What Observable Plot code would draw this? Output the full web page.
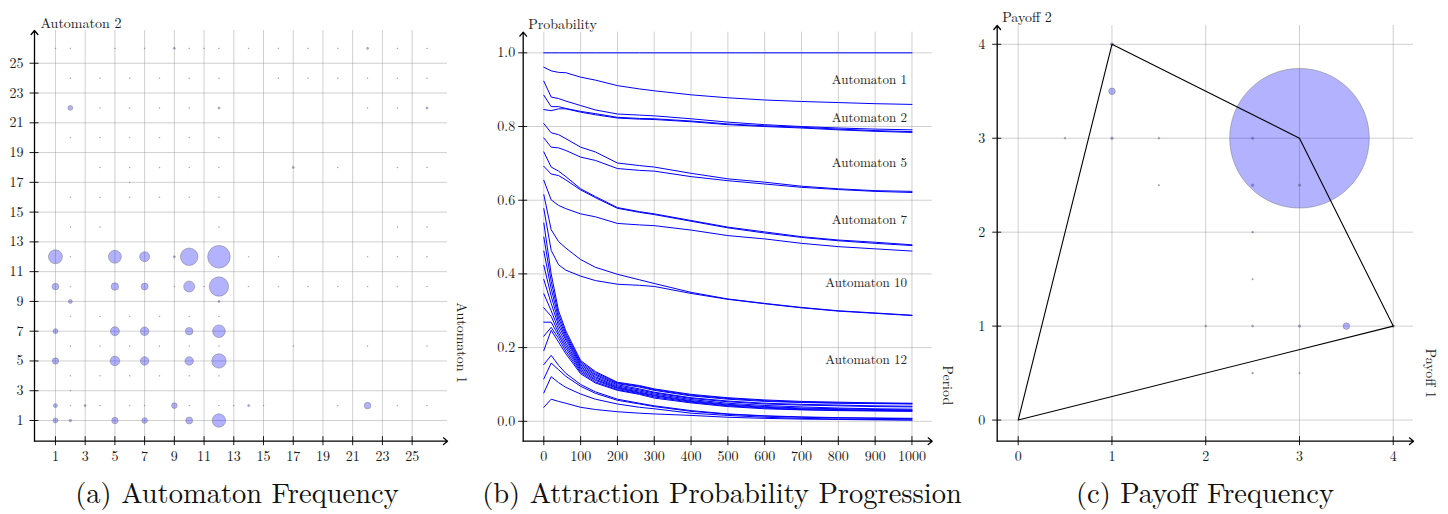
<!DOCTYPE html>
<html><head><meta charset="utf-8">
<script src="https://cdn.jsdelivr.net/npm/d3@7"></script>
<script src="https://cdn.jsdelivr.net/npm/@observablehq/plot@0.6"></script>
<style>
body{margin:0;background:#fff;}
#wrap{position:relative;width:1448px;height:514px;overflow:hidden;font-family:"Latin Modern Roman","Liberation Serif",serif;color:#111;}
.panel{position:absolute;top:0;}
.cap{position:absolute;top:474px;font-size:28.5px;white-space:nowrap;transform:translateX(-50%);line-height:34px;}
</style></head><body><div id="wrap"></div>
<script>
// ---------- Panel (a): Automaton Frequency ----------
const autoTicks = [1,3,5,7,9,11,13,15,17,19,21,23,25];
const automaton1 = [1,5,7,10,12, 1,5,7,10,12, 2, 1,5,7,10,12, 1,5,7,10,12, 1,9,22, 1,2,5,7,10,12, 2];
const automaton2 = [12,12,12,12,12, 10,10,10,10,10, 9, 7,7,7,7,7, 5,5,5,5,5, 2,2,2, 1,1,1,1,1,1, 22];
const pairFreq   = [49,42,25,77,128, 11,14,12,30,94, 4, 6,20,18,14,40, 10,23,18,18,52, 4,8,11, 6,1.7,10,8,12,45, 6];
const fewPairs = [[9,12],[12,9],[3,2],[14,2],[9,26],[22,26],[12,22],[26,22],[17,18]];
const fewFreq = 1.0;
const rarePairs = [
 [1,26],[2,26],[5,26],[7,26],[10,26],[11,26],[12,26],[14,26],[16,26],[18,26],[20,26],[24,26],[26,26],
 [2,24],[4,24],[6,24],[8,24],[10,24],[12,24],[16,24],[18,24],[20,24],[22,24],[24,24],[26,24],
 [4,22],[6,22],[8,22],[10,22],[22,22],[24,22],
 [2,20],[4,20],[6,20],[8,20],[10,20],[12,20],
 [4,18],[6,18],[8,18],[10,18],[12,18],[20,18],[24,18],[26,18],[6,17],
 [2,16],[4,16],[6,16],[8,16],[10,16],[12,16],
 [2,14],[4,14],[12,14],[24,14],[26,14],
 [2,12],[14,12],[16,12],[22,12],[24,12],[26,12],
 [2,10],[9,10],[11,10],[14,10],[16,10],[18,10],[20,10],[22,10],[24,10],[26,10],
 [2,8],[4,8],[6,8],[8,8],[10,8],[12,8],
 [2,6],[4,6],[6,6],[8,6],[10,6],[12,6],[17,6],[22,6],[26,6],
 [2,4],[4,4],[6,4],[8,4],[10,4],[12,4],[2,3],
 [2,2],[4,2],[6,2],[7,2],[10,2],[12,2],[13,2],[15,2],[20,2],[24,2],[26,2]
];
const rareFreq = 0.15;

// ---------- Panel (b): Attraction Probability Progression ----------
const periods = [0,20,40,60,100,140,200,260,300,400,500,600,700,800,900,1000];
const periodTicks = [0,100,200,300,400,500,600,700,800,900,1000];
const probTicks = [0,0.2,0.4,0.6,0.8,1.0];
const b26 = [1,1,1,1,1,1,1,1,1,1,1,1,1,1,1,1];
const b25 = [0.961,0.951,0.947,0.946,0.934,0.926,0.911,0.902,0.897,0.886,0.878,0.872,0.868,0.865,0.862,0.860];
const b24 = [0.923,0.880,0.876,0.869,0.857,0.845,0.834,0.831,0.829,0.821,0.812,0.805,0.800,0.796,0.793,0.791];
const b23 = [0.885,0.854,0.854,0.849,0.841,0.835,0.825,0.822,0.821,0.815,0.807,0.802,0.798,0.793,0.789,0.786];
const b22 = [0.846,0.843,0.848,0.848,0.839,0.832,0.823,0.820,0.819,0.813,0.805,0.800,0.796,0.791,0.787,0.784];
const b21 = [0.808,0.783,0.778,0.767,0.744,0.731,0.701,0.694,0.690,0.673,0.658,0.649,0.638,0.631,0.626,0.624];
const b20 = [0.769,0.744,0.742,0.735,0.717,0.708,0.686,0.681,0.679,0.664,0.653,0.644,0.635,0.629,0.624,0.621];
const b19 = [0.731,0.690,0.679,0.664,0.631,0.610,0.580,0.569,0.563,0.545,0.527,0.514,0.501,0.492,0.486,0.479];
const b18 = [0.692,0.671,0.667,0.655,0.628,0.607,0.578,0.567,0.561,0.543,0.525,0.511,0.499,0.490,0.483,0.477];
const b17 = [0.654,0.601,0.586,0.577,0.563,0.555,0.537,0.533,0.531,0.519,0.504,0.495,0.483,0.474,0.468,0.462];
const b16 = [0.615,0.520,0.488,0.470,0.439,0.418,0.399,0.384,0.374,0.350,0.332,0.320,0.309,0.300,0.294,0.288];
const b15 = [0.577,0.464,0.425,0.410,0.394,0.382,0.372,0.369,0.366,0.347,0.331,0.319,0.308,0.299,0.293,0.287];
const b14 = [0.538,0.400,0.300,0.245,0.165,0.135,0.106,0.097,0.088,0.073,0.064,0.058,0.054,0.052,0.050,0.049];
const b13 = [0.500,0.380,0.290,0.238,0.161,0.132,0.104,0.095,0.086,0.071,0.062,0.056,0.052,0.050,0.049,0.048];
const b12 = [0.462,0.360,0.280,0.232,0.157,0.128,0.102,0.093,0.084,0.069,0.060,0.054,0.051,0.049,0.048,0.047];
const b11 = [0.423,0.340,0.270,0.226,0.153,0.125,0.099,0.088,0.079,0.064,0.055,0.049,0.046,0.044,0.042,0.041];
const b10 = [0.385,0.320,0.260,0.220,0.149,0.121,0.096,0.085,0.077,0.062,0.053,0.047,0.044,0.042,0.040,0.039];
const b9  = [0.346,0.300,0.250,0.212,0.145,0.118,0.093,0.082,0.074,0.059,0.049,0.043,0.039,0.036,0.034,0.033];
const b8  = [0.308,0.285,0.240,0.205,0.141,0.114,0.091,0.079,0.071,0.056,0.046,0.040,0.036,0.034,0.032,0.031];
const b7  = [0.269,0.269,0.233,0.198,0.137,0.111,0.089,0.077,0.069,0.054,0.044,0.038,0.034,0.032,0.030,0.029];
const b6  = [0.231,0.255,0.225,0.190,0.133,0.107,0.086,0.075,0.066,0.052,0.042,0.036,0.032,0.030,0.029,0.028];
const b5  = [0.192,0.247,0.215,0.183,0.129,0.104,0.084,0.073,0.063,0.050,0.040,0.034,0.031,0.029,0.028,0.027];
const b4  = [0.154,0.179,0.152,0.130,0.100,0.080,0.060,0.049,0.042,0.029,0.020,0.015,0.012,0.010,0.009,0.008];
const b3  = [0.115,0.158,0.140,0.122,0.095,0.076,0.057,0.047,0.040,0.027,0.019,0.014,0.011,0.009,0.008,0.007];
const b2  = [0.077,0.121,0.105,0.092,0.074,0.060,0.047,0.038,0.034,0.022,0.016,0.011,0.008,0.006,0.005,0.004];
const b1  = [0.038,0.060,0.054,0.049,0.038,0.032,0.026,0.022,0.020,0.016,0.011,0.008,0.006,0.005,0.004,0.003];
const boundaryLines = [b26,b25,b24,b23,b22,b21,b20,b19,b18,b17,b16,b15,b14,b13,b12,b11,b10,b9,b8,b7,b6,b5,b4,b3,b2,b1];
const regionLabels = ["Automaton 1","Automaton 2","Automaton 5","Automaton 7","Automaton 10","Automaton 12"];
const regionLabelY = [0.927,0.824,0.701,0.548,0.375,0.168];

// ---------- Panel (c): Payoff Frequency ----------
const payoffTicks = [0,1,2,3,4];
const payoff1    = [3, 1,  3.5, 1,    4,    0.5, 1,    1.5, 2.5, 2.5,  3,   1.5, 2.5, 2.5, 2,   2.5, 3,   2.5, 3];
const payoff2    = [3, 3.5,1,   4,    1,    3,   3,    3,   3,   2.5,  2.5, 2.5, 2,   1.5, 1,   1,   1,   0.5, 0.5];
const payoffFreq = [1000,2.2,2.2,0.45,0.35, 0.15,0.35, 0.15,0.3, 0.35, 0.3, 0.1, 0.15,0.1, 0.15,0.2, 0.3, 0.15,0.1];
const hull1 = [0,1,3,4,0];
const hull2 = [0,4,3,1,0];

// ---------- helpers ----------
const H = 475;
const FS = 14;
const gridStyle = {stroke:"#8a8a8a", strokeOpacity:0.5, strokeWidth:0.8};
function axisMarks(xd, yd, xt, yt, xfmt, yfmt, ypad){
  return [
    Plot.axisX({ticks:xt, tickSize:9, dy:-4.5, tickFormat:()=>"", label:null, strokeWidth:1}),
    Plot.axisX({ticks:xt, tickSize:0, tickPadding:10, tickFormat:xfmt, label:null, fontSize:FS}),
    Plot.axisY({ticks:yt, tickSize:9, dx:4.5, tickFormat:()=>"", label:null, strokeWidth:1}),
    Plot.axisY({ticks:yt, tickSize:0, tickPadding:ypad, tickFormat:yfmt, label:null, fontSize:FS}),
    Plot.arrow([{a:xd[0],b:yd[0],c:xd[1],d:yd[0]},{a:xd[0],b:yd[0],c:xd[0],d:yd[1]}],
      {x1:"a", y1:"b", x2:"c", y2:"d", stroke:"black", strokeWidth:1.3, headLength:6, headAngle:80})
  ];
}
const baseStyle = {fontFamily:'"Latin Modern Roman", "Liberation Serif", serif', fontSize:FS+"px", color:"#1a1a1a", background:"transparent", overflow:"visible"};
const wrap = document.getElementById("wrap");
function place(svg, left){ const d=document.createElement("div"); d.className="panel"; d.style.left=left+"px"; d.appendChild(svg); wrap.appendChild(d); }
function caption(text, cx){ const d=document.createElement("div"); d.className="cap"; d.style.left=cx+"px"; d.textContent=text; wrap.appendChild(d); }
const plain = d => String(d);

// Panel (a)
const xdA = [-0.41, 27.38], ydA = [-0.39, 27.2];
const dotsA = [
  ...rarePairs.map(p => ({a1:p[0], a2:p[1], f:rareFreq})),
  ...fewPairs.map(p => ({a1:p[0], a2:p[1], f:fewFreq})),
  ...automaton1.map((v,i) => ({a1:v, a2:automaton2[i], f:pairFreq[i]}))
];
place(Plot.plot({
  width:480, height:H, marginLeft:34, marginRight:33, marginTop:30, marginBottom:H-440.7,
  style: baseStyle,
  x:{domain:xdA}, y:{domain:ydA},
  r:{type:"sqrt", domain:[0,128], range:[0,11.3]},
  marks:[
    Plot.gridX(autoTicks, gridStyle),
    Plot.gridY(autoTicks, gridStyle),
    Plot.dot(dotsA, {x:"a1", y:"a2", r:"f", fill:"blue", fillOpacity:0.3, stroke:"#777", strokeOpacity:0.6, strokeWidth:0.8}),
    ...axisMarks(xdA, ydA, autoTicks, autoTicks, plain, plain, 11),
    Plot.text(["Automaton 2"], {text:d=>d, frameAnchor:"top-left", textAnchor:"start", dx:6, dy:-12, fontSize:FS}),
    Plot.text(["Automaton 1"], {text:d=>d, frameAnchor:"bottom-right", rotate:90, dx:9, dy:-58, fontSize:FS})
  ]
}), 0);
caption("(a) Automaton Frequency", 237);

// Panel (b)
const xdB = [-56, 1055], ydB = [-0.054, 1.056];
const lineRows = boundaryLines.flatMap((arr, k) => arr.map((p, i) => ({id:k, t:periods[i], p})));
place(Plot.plot({
  width:480, height:H, marginLeft:42.7, marginRight:28.3, marginTop:31.7, marginBottom:H-440.7,
  style: baseStyle,
  x:{domain:xdB}, y:{domain:ydB},
  marks:[
    Plot.gridX(periodTicks, gridStyle),
    Plot.gridY(probTicks, gridStyle),
    Plot.line(lineRows, {x:"t", y:"p", z:"id", stroke:"#0000ff", strokeWidth:1}),
    Plot.text(regionLabels, {x:()=>1000, y:(d,i)=>regionLabelY[i], text:d=>d, textAnchor:"end", dx:-5, fontSize:13, fill:"#222"}),
    ...axisMarks(xdB, ydB, periodTicks, probTicks, plain, d=>d.toFixed(1), 8),
    Plot.text(["Probability"], {text:d=>d, frameAnchor:"top-left", textAnchor:"start", dx:5, dy:-13, fontSize:FS}),
    Plot.text(["Period"], {text:d=>d, frameAnchor:"bottom-right", rotate:90, dx:11, dy:-36, fontSize:FS})
  ]
}), 480);
caption("(b) Attraction Probability Progression", 722);

// Panel (c)
const xdC = [-0.224, 4.216], ydC = [-0.225, 4.2];
const dotsC = payoff1.map((v,i) => ({p1:v, p2:payoff2[i], f:payoffFreq[i]}));
const hullRows = hull1.map((v,i) => ({p1:v, p2:hull2[i]}));
place(Plot.plot({
  width:488, height:H, marginLeft:36.7, marginRight:35, marginTop:25, marginBottom:H-440.7,
  style: baseStyle,
  x:{domain:xdC}, y:{domain:ydC},
  r:{type:"sqrt", domain:[0,1000], range:[0,69.8]},
  marks:[
    Plot.gridX(payoffTicks, gridStyle),
    Plot.gridY(payoffTicks, gridStyle),
    Plot.dot(dotsC, {x:"p1", y:"p2", r:"f", fill:"blue", fillOpacity:0.3, stroke:"#777", strokeOpacity:0.6, strokeWidth:0.8}),
    Plot.line(hullRows, {x:"p1", y:"p2", stroke:"black", strokeWidth:1.1}),
    ...axisMarks(xdC, ydC, payoffTicks, payoffTicks, plain, plain, 12),
    Plot.text(["Payoff 2"], {text:d=>d, frameAnchor:"top-left", textAnchor:"start", dx:5, dy:-13, fontSize:FS}),
    Plot.text(["Payoff 1"], {text:d=>d, frameAnchor:"bottom-right", rotate:90, dx:12, dy:-43, fontSize:FS})
  ]
}), 960);
caption("(c) Payoff Frequency", 1205);
</script>
</body></html>
